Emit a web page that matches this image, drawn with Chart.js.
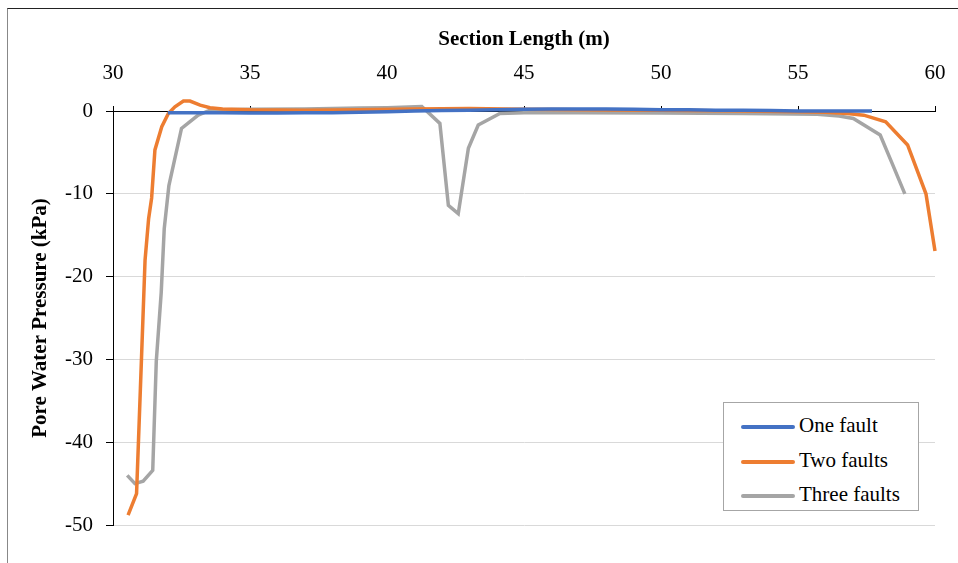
<!DOCTYPE html>
<html>
<head>
<meta charset="utf-8">
<script src="https://cdn.jsdelivr.net/npm/chart.js@4.4.0/dist/chart.umd.min.js"></script>
<style>
  body { margin: 0; background: #fff; }
  #wrap { position: relative; width: 958px; height: 563px; overflow: hidden; }
  #frame { position: absolute; left: 7px; top: 8px; width: 1000px; height: 600px;
           border-left: 1px solid #888; border-top: 1px solid #222; pointer-events: none; }
  #legend { position: absolute; left: 723px; top: 402px; width: 194px; height: 107px;
            border: 1px solid #a6a6a6; background: #fff;
            font-family: "Liberation Serif", serif; font-size: 21px; color: #000; }
  .item { position: absolute; left: 17px; height: 24px; line-height: 24px; white-space: nowrap; }
  .swatch { display: inline-block; width: 54px; height: 4px; border-radius: 2px;
            vertical-align: middle; margin-right: 4px; }
</style>
</head>
<body>
<div id="wrap">
  <canvas id="chart" width="958" height="563"></canvas>
  <div id="frame"></div>
  <div id="legend"></div>
</div>
<script>
// series labels
const seriesNames = ['One fault', 'Two faults', 'Three faults'];
const seriesColors = ['#4472C4', '#ED7D31', '#A5A5A5'];

// One fault
const oneX = [32.0, 33, 34, 35, 36, 37, 38, 39, 40, 41, 42, 43, 44, 45, 46, 47, 48, 49, 50, 51, 52, 53, 54, 55, 56, 57, 57.7];
const oneY = [-0.2, -0.2, -0.2, -0.25, -0.25, -0.2, -0.2, -0.15, -0.1, 0, 0.05, 0.1, 0.15, 0.2, 0.25, 0.25, 0.25, 0.2, 0.15, 0.15, 0.1, 0.1, 0.05, 0.0, 0.0, 0.0, 0.0];

// Two faults
const twoX = [30.55, 30.86, 31.0, 31.17, 31.3, 31.41, 31.53, 31.78, 32.02, 32.26, 32.57, 32.81, 33.18, 33.54, 34.0, 35.0, 37.0, 39.0, 41.0, 43.0, 45.0, 47.0, 50.0, 53.0, 55.0, 56.0, 56.8, 57.4, 58.2, 59.0, 59.67, 60.0];
const twoY = [-48.8, -46.2, -33.5, -18, -13, -10.5, -4.7, -1.9, -0.3, 0.5, 1.2, 1.2, 0.7, 0.4, 0.25, 0.15, 0.1, 0.15, 0.25, 0.3, 0.2, 0.15, 0.1, 0.0, -0.1, -0.15, -0.3, -0.5, -1.3, -4.1, -10.0, -16.9];

// Three faults
const threeX = [30.52, 30.8, 31.1, 31.45, 31.58, 31.76, 31.87, 32.04, 32.5, 33.11, 33.54, 34, 35, 37, 39, 40, 41.27, 41.93, 42.24, 42.6, 42.97, 43.33, 44.12, 45, 47, 50, 53, 55.7, 56.5, 57.02, 58.0, 58.42, 58.9];
const threeY = [-44.0, -45.0, -44.7, -43.4, -30.2, -21.9, -14.2, -9.0, -2.1, -0.5, 0.1, 0.15, 0.2, 0.25, 0.35, 0.4, 0.55, -1.5, -11.4, -12.4, -4.5, -1.7, -0.3, -0.2, -0.2, -0.25, -0.3, -0.4, -0.6, -0.9, -2.9, -6.2, -10.0];

// axes
const xTicks = [30, 35, 40, 45, 50, 55, 60];
const yTicks = [0, -10, -20, -30, -40, -50];
const xTitle = 'Section Length (m)';
const yTitle = 'Pore Water Pressure (kPa)';

const allX = [oneX, twoX, threeX];
const allY = [oneY, twoY, threeY];

const serif = '"Liberation Serif", serif';

const datasets = seriesNames.map((name, i) => ({
  label: name,
  data: allX[i].map((x, j) => ({ x: x, y: allY[i][j] })),
  borderColor: seriesColors[i],
  backgroundColor: seriesColors[i],
  borderWidth: 3.5,
  pointRadius: 0,
  tension: 0,
  clip: false
}));

new Chart(document.getElementById('chart'), {
  type: 'line',
  data: { datasets: datasets },
  options: {
    responsive: false,
    animation: false,
    layout: { padding: { left: 0, top: 15, right: 23, bottom: 38 } },
    plugins: { legend: { display: false }, tooltip: { enabled: false } },
    scales: {
      x: {
        type: 'linear',
        position: 'top',
        min: xTicks[0],
        max: xTicks[xTicks.length - 1],
        afterBuildTicks: s => { s.ticks = xTicks.map(v => ({ value: v })); },
        afterFit: s => { s.height = 96; s.paddingLeft = 0; s.paddingRight = 0; },
        border: { display: true, color: '#000', width: 1 },
        grid: { drawOnChartArea: false, drawTicks: true, tickLength: 5, tickColor: '#000' },
        ticks: { color: '#000', padding: 20, font: { family: serif, size: 21 } },
        title: { display: true, text: xTitle, color: '#000',
                 padding: { top: 12, bottom: 0 },
                 font: { family: serif, size: 21, weight: 'bold' } }
      },
      y: {
        type: 'linear',
        min: yTicks[yTicks.length - 1],
        max: yTicks[0],
        afterBuildTicks: s => { s.ticks = yTicks.slice().reverse().map(v => ({ value: v })); },
        afterFit: s => { s.width = 113; s.paddingTop = 0; s.paddingBottom = 0; },
        border: { display: true, color: '#000', width: 1 },
        grid: { color: '#d9d9d9', lineWidth: 1, tickLength: 7, tickColor: '#000' },
        ticks: { color: '#000', padding: 13, font: { family: serif, size: 21 } },
        title: { display: true, text: yTitle, color: '#000',
                 padding: { top: 28, bottom: 0 },
                 font: { family: serif, size: 21, weight: 'bold' } }
      }
    }
  }
});

// legend box
const legend = document.getElementById('legend');
const rowTops = [10, 45, 79];
seriesNames.forEach((name, i) => {
  const d = document.createElement('div');
  d.className = 'item';
  d.style.top = rowTops[i] + 'px';
  const sw = document.createElement('span');
  sw.className = 'swatch';
  sw.style.background = seriesColors[i];
  d.appendChild(sw);
  d.appendChild(document.createTextNode(name));
  legend.appendChild(d);
});
</script>
</body>
</html>
